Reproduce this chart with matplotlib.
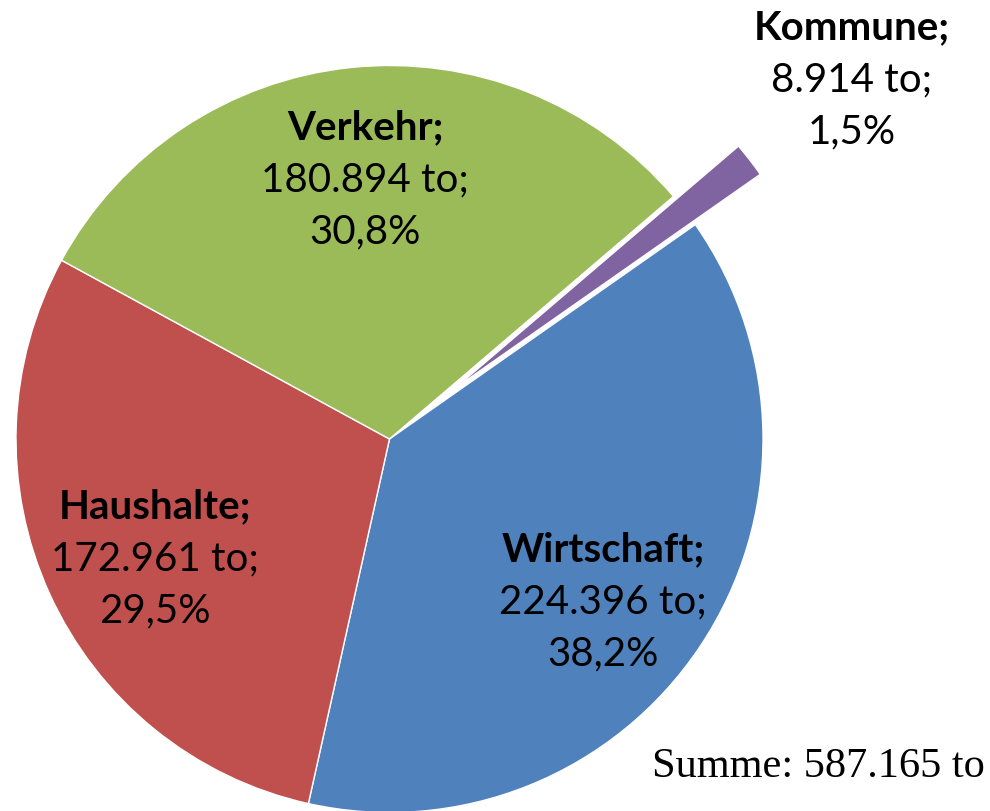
import matplotlib.pyplot as plt

# data
sectors = ["Kommune", "Wirtschaft", "Haushalte", "Verkehr"]
tonnes = [8914, 224396, 172961, 180894]
colors = ["#8064A2", "#4F81BD", "#C0504D", "#9BBB59"]
explode_frac = [0.22, 0, 0, 0]

# label anchor points (pixel coords, y from top) - first line centre
label_pos = {"Kommune": (852, 28), "Wirtschaft": (603, 550),
             "Haushalte": (155, 507), "Verkehr": (365, 128)}

W, H = 990, 812
cx, cy, R = 389.5, 440, 373.5


def de(n):
    return f"{n:,}".replace(",", ".")


total = sum(tonnes)

fig = plt.figure(figsize=(W / 100, H / 100), dpi=100)
ax = fig.add_axes([0, 0, 1, 1])

ax.pie(tonnes, colors=colors, explode=[e * R for e in explode_frac],
       startangle=40.5, counterclock=False, radius=R, center=(cx, H - cy),
       wedgeprops=dict(edgecolor="white", linewidth=1.0), frame=True)
ax.set_xlim(0, W)
ax.set_ylim(0, H)
ax.axis("off")

lh = 52
for name, val in zip(sectors, tonnes):
    x, y = label_pos[name]
    pct = f"{100 * val / total:.1f}%".replace(".", ",")
    lines = [(name + ";", "bold"), (de(val) + " to;", "normal"), (pct, "normal")]
    for i, (s, w) in enumerate(lines):
        ax.text(x, H - (y + i * lh), s, ha="center", va="center",
                fontsize=29, fontweight=w, family="Lato", color="black")

ax.text(985, H - 767, f"Summe: {de(total)} to", ha="right", va="center",
        fontsize=30.5, family="Liberation Serif", color="black")

fig.savefig("out.png", dpi=100)
